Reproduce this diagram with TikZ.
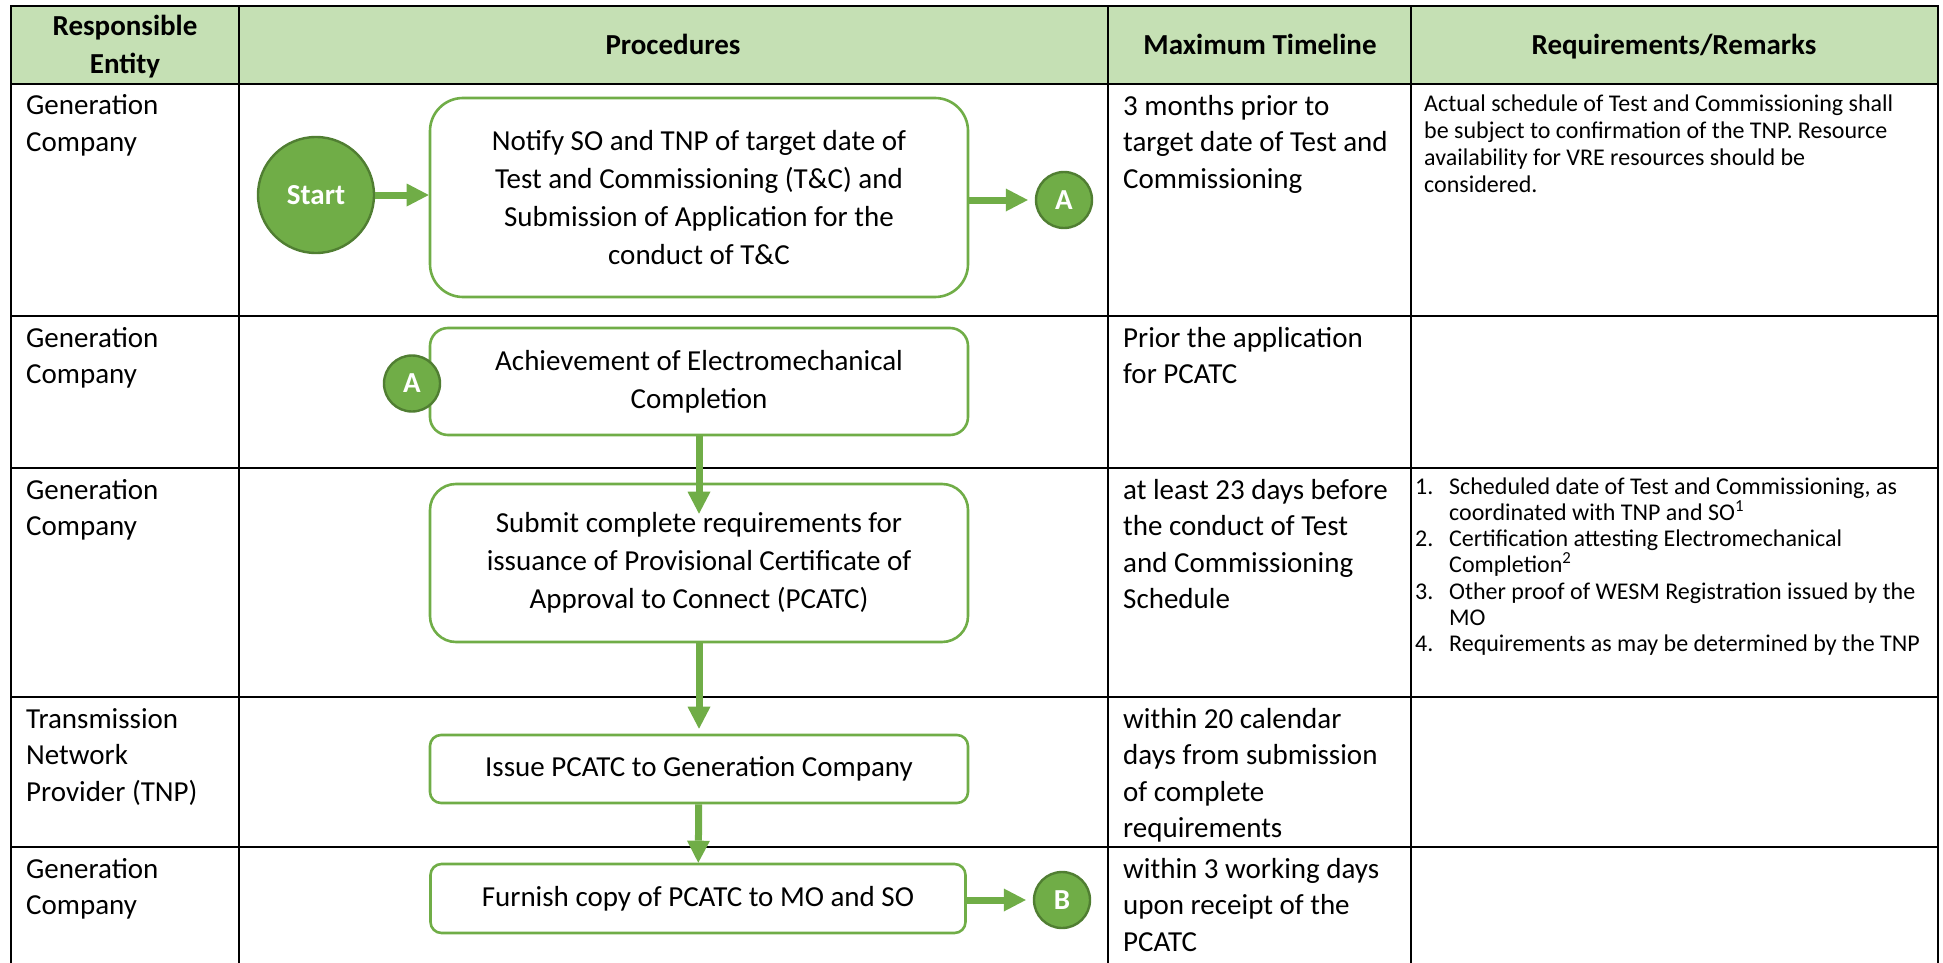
\documentclass[tikz,border=0pt]{standalone}
\usepackage{fontspec}
\setmainfont{Carlito}
\usetikzlibrary{arrows.meta}
\definecolor{hdrgreen}{HTML}{C5E0B4}
\definecolor{accgreen}{HTML}{70AD47}
\definecolor{edgegreen}{HTML}{507E32}
\newcommand{\itemno}[1]{\makebox[34pt][l]{#1}}
\newcommand{\itemgap}{\hspace*{34pt}}

\begin{document}
\begin{tikzpicture}[x=1pt,y=-1pt,
    tabline/.style={line width=2.7pt},
    hdr/.style={anchor=base, align=center, inner sep=0pt, font=\fontsize{29}{38}\selectfont\bfseries},
    coltext/.style={anchor=base west, align=left, inner sep=0pt, font=\fontsize{29}{36.5}\selectfont},
    remtext/.style={anchor=base west, align=left, inner sep=0pt, font=\fontsize{24}{27}\selectfont},
    listtext/.style={anchor=base west, align=left, inner sep=0pt, font=\fontsize{24}{26.3}\selectfont},
    procbox/.style={draw=accgreen, line width=2.6pt, fill=white, rounded corners=#1, minimum width=538pt, inner sep=0pt, align=center, font=\fontsize{29}{38}\selectfont},
    conn/.style={circle, draw=edgegreen, line width=2.4pt, fill=accgreen, minimum size=56pt, inner sep=0pt, text=white, font=\fontsize{29}{36}\selectfont\bfseries},
    flow/.style={draw=accgreen, line width=7pt, -{Triangle[width=23pt,length=22pt,line width=0pt]}}]
  \useasboundingbox (0,0) rectangle (1943,963);

  % table
  \fill[hdrgreen] (11,6) rectangle (1938,84);
  \draw[tabline] (11,963) -- (11,6) -- (1938,6) -- (1938,963);
  \foreach \y in {84,316,468,697,847}
    \draw[tabline] (11,\y) -- (1938,\y);
  \foreach \x in {239,1108,1411}
    \draw[tabline] (\x,6) -- (\x,963);

  % text nodes sit on the baseline of their last line
  \node (hEnt) at (125,74) [hdr] {Responsible\\Entity};
  \node (hProc) at (673,55) [hdr] {Procedures};
  \node (hTime) at (1260,55) [hdr] {Maximum Timeline};
  \node (hRem) at (1674,55) [hdr] {Requirements/Remarks};

  \node (ent1) at (26,151.5) [coltext] {Generation\\Company};
  \node (ent2) at (26,383.5) [coltext] {Generation\\Company};
  \node (ent3) at (26,535.5) [coltext] {Generation\\Company};
  \node (ent4) at (26,801) [coltext] {Transmission\\Network\\Provider (TNP)};
  \node (ent5) at (26,914.5) [coltext] {Generation\\Company};

  \node (time1) at (1123,188) [coltext] {3 months prior to\\target date of Test and\\Commissioning};
  \node (time2) at (1123,383.5) [coltext] {Prior the application\\for PCATC};
  \node (time3) at (1123,608.5) [coltext] {at least 23 days before\\the conduct of Test\\and Commissioning\\Schedule};
  \node (time4) at (1123,837.5) [coltext] {within 20 calendar\\days from submission\\of complete\\requirements};
  \node (time5) at (1123,951) [coltext] {within 3 working days\\upon receipt of the\\PCATC};

  \node (rem1) at (1424,192) [remtext] {Actual schedule of Test and Commissioning shall\\be subject to confirmation of the TNP. Resource\\availability for VRE resources should be\\considered.};
  \node (rem3) at (1415,651.8) [listtext] {\itemno{1.}Scheduled date of Test and Commissioning, as\\
    \itemgap coordinated with TNP and SO\textsuperscript{1}\\
    \itemno{2.}Certification attesting Electromechanical\\
    \itemgap Completion\textsuperscript{2}\\
    \itemno{3.}Other proof of WESM Registration issued by the\\
    \itemgap MO\\
    \itemno{4.}Requirements as may be determined by the TNP};

  % procedure boxes
  \node (box1) at (699,197.5) [procbox=33pt, minimum height=199pt] {Notify SO and TNP of target date of\\Test and Commissioning (T\&C) and\\Submission of Application for the\\conduct of T\&C};
  \node (box2) at (699,381.5) [procbox=18pt, minimum height=107pt] {Achievement of Electromechanical\\Completion};
  \node (box3) at (699,563) [procbox=26pt, minimum height=158pt] {Submit complete requirements for\\issuance of Provisional Certificate of\\Approval to Connect (PCATC)};
  \node (box4) at (699,769) [procbox=11pt, minimum height=68pt] {Issue PCATC to Generation Company};
  \node (box5) at (698,898.5) [procbox=11pt, minimum height=69pt, minimum width=535pt] {Furnish copy of PCATC to MO and SO};

  \node (start) at (316,195) [conn, minimum size=116pt] {Start};
  \node (conA1) at (1064,200) [conn] {A};
  \node (conA2) at (412,383.5) [conn] {A};
  \node (conB) at (1062,900) [conn] {B};

  \draw[flow] (start) to (start -| box1.west);
  \draw[flow, shorten >=7pt] (conA1 -| box1.east) to (conA1);
  \draw[flow] (box2) to ([yshift=-31pt]box3.north);
  \draw[flow, shorten >=5pt] (box3) to (box4);
  \draw[flow] (box4) to (box5);
  \draw[flow, shorten >=7pt] (conB -| box5.east) to (conB);
\end{tikzpicture}
\end{document}
